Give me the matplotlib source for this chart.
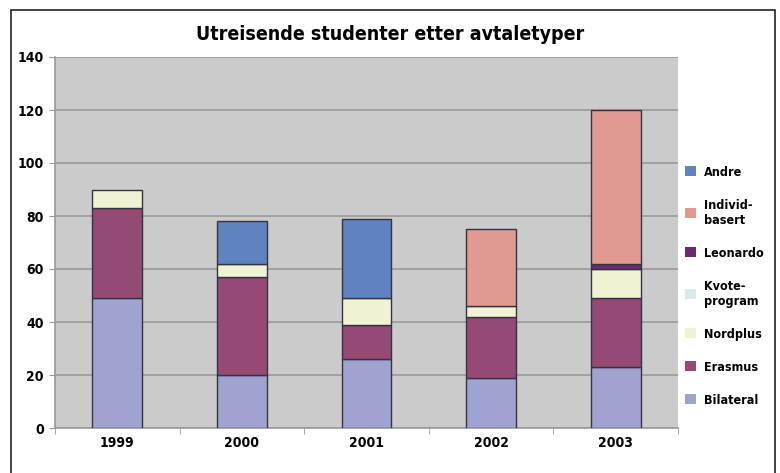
import matplotlib
matplotlib.use("Agg")
import matplotlib.pyplot as plt
from matplotlib.patches import Rectangle, Patch
import numpy as np

plt.rcParams['font.family'] = ['DejaVu Sans']
plt.rcParams['font.stretch'] = 'condensed'
plt.rcParams['font.weight'] = 'bold'

# data
years = ['1999', '2000', '2001', '2002', '2003']
bilateral = [49, 20, 26, 19, 23]
erasmus = [34, 37, 13, 23, 26]
nordplus = [7, 5, 10, 4, 11]
kvoteprogram = [0, 0, 0, 0, 0]
leonardo = [0, 0, 0, 0, 2]
individbasert = [0, 0, 0, 29, 58]
andre = [0, 16, 30, 0, 0]

series = [
    ('Bilateral', bilateral, '#9ea4cf'),
    ('Erasmus', erasmus, '#954a75'),
    ('Nordplus', nordplus, '#f1f1d3'),
    ('Kvote-\nprogram', kvoteprogram, '#d6eaec'),
    ('Leonardo', leonardo, '#682b6b'),
    ('Individ-\nbasert', individbasert, '#e09a8f'),
    ('Andre', andre, '#5f82c1'),
]

fig = plt.figure(figsize=(7.8, 4.73), dpi=100)
fig.patches.append(Rectangle((11 / 780, -0.1), (775 - 11) / 780, 1.1 - 10 / 473,
                             transform=fig.transFigure, fill=False,
                             edgecolor='#222222', linewidth=1.2))

ax = fig.add_axes([55 / 780, 1 - 428 / 473, (678 - 55) / 780, (428 - 57) / 473])
ax.set_facecolor('#cbcbcb')

x = np.arange(len(years))
bottom = np.zeros(len(years))
for name, vals, col in series:
    vals = np.array(vals, dtype=float)
    mask = vals > 0
    ax.bar(x[mask], vals[mask], 0.4, bottom=bottom[mask], color=col,
           edgecolor='#333344', linewidth=1.0, zorder=3)
    bottom += vals

ax.set_xlim(-0.5, len(years) - 0.5)
ax.set_ylim(0, 140)
ax.set_yticks(range(0, 141, 20))
ax.set_xticks(x)
ax.set_xticklabels(years)
ax.set_xticks(np.arange(len(years) + 1) - 0.5, minor=True)
ax.tick_params(axis='x', which='major', length=0, labelsize=10, pad=6)
ax.tick_params(axis='x', which='minor', length=4, color='#999999', direction='out')
ax.tick_params(axis='y', length=4, color='#999999', labelsize=10, pad=4)
ax.grid(axis='y', color='#999999', linewidth=1.2, zorder=1)
for s in ['top', 'right']:
    ax.spines[s].set_visible(False)
ax.spines['left'].set_color('#999999')
ax.spines['bottom'].set_color('#999999')
ax.spines['left'].set_linewidth(1.2)
ax.spines['bottom'].set_linewidth(1.2)

fig.text(0.5, 1 - 34 / 473, 'Utreisende studenter etter avtaletyper',
         ha='center', va='center', fontsize=14, fontweight='bold')

handles = [Patch(facecolor=c, edgecolor='none', label=n) for n, v, c in series[::-1]]
fig.legend(handles=handles, loc='center left', bbox_to_anchor=(680 / 780, 1 - 286 / 473),
           frameon=False, fontsize=9, handlelength=0.9, handleheight=0.9,
           labelspacing=1.6, handletextpad=0.6, borderaxespad=0)

fig.savefig('out.png', dpi=100)
